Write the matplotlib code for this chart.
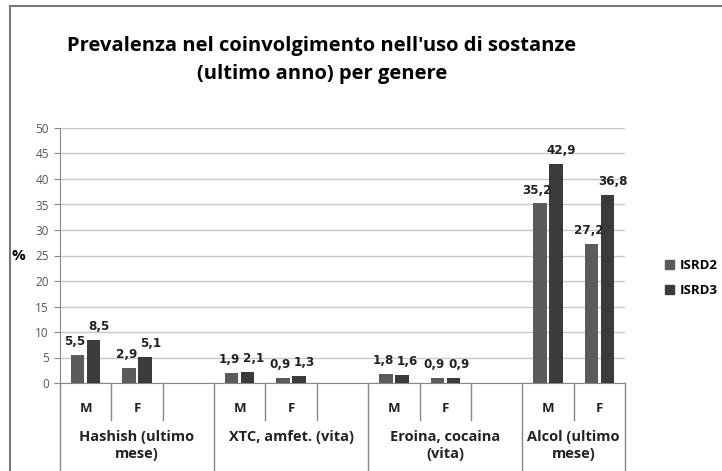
import numpy as np
import matplotlib.pyplot as plt
from matplotlib.patches import Patch

groups = ["Hashish (ultimo\nmese)", "XTC, amfet. (vita)", "Eroina, cocaina\n(vita)", "Alcol (ultimo\nmese)"]
subcats = [["M", "F", ""], ["M", "F", ""], ["M", "F", ""], ["M", "F"]]
isrd2 = [5.5, 2.9, 1.9, 0.9, 1.8, 0.9, 35.2, 27.2]
isrd3 = [8.5, 5.1, 2.1, 1.3, 1.6, 0.9, 42.9, 36.8]
yticks = [0, 5, 10, 15, 20, 25, 30, 35, 40, 45, 50]

c2 = "#5b5b5b"
c3 = "#3b3b3b"

fig = plt.figure(figsize=(7.22, 4.71), dpi=100)
W, H = 722, 471
ax = fig.add_axes([60 / W, (H - 383) / H, (625 - 60) / W, (383 - 128) / H])

# slot positions for each bar pair
nslots = sum(len(s) for s in subcats)
pos = []
k = 0
for s in subcats:
    for name in s:
        if name:
            pos.append(k + 0.5)
        k += 1
pos = np.array(pos)

w = 0.26
off = 0.155
ax.bar(pos - off, isrd2, w, color=c2, zorder=3)
ax.bar(pos + off, isrd3, w, color=c3, zorder=3)

lab = dict(ha="center", va="bottom", fontsize=9.5, fontweight="bold", family="DejaVu Sans",
           fontstretch="condensed", color="#222222", textcoords="offset points")
for x, v in zip(pos - off, isrd2):
    ax.annotate(f"{v:.1f}".replace(".", ","), (x, v), xytext=(-2, 5), **lab)
for x, v in zip(pos + off, isrd3):
    ax.annotate(f"{v:.1f}".replace(".", ","), (x, v), xytext=(4, 5), **lab)

ax.set_xlim(0, nslots)
ax.set_ylim(0, 50)
ax.set_yticks(yticks)
ax.set_yticklabels([str(t) for t in yticks], fontsize=8.5, color="#555555", family="Open Sans")
ax.tick_params(axis="y", length=4, color="#888888", pad=4)
ax.set_xticks([])
ax.yaxis.grid(True, color="#c8c8c8", lw=1)
ax.set_axisbelow(True)
for sp in ["top", "right"]:
    ax.spines[sp].set_visible(False)
ax.spines["left"].set_color("#888888")
ax.spines["bottom"].set_color("#888888")

ax.text(-0.062, 25 / 50, "%", transform=ax.transAxes, ha="right", va="center",
        fontsize=11, fontweight="bold", family="Open Sans")

# category axis: inner ticks and labels
ax_h = 383 - 128
inner = -37 / ax_h
outer = -88 / ax_h
xt = ax.get_xaxis_transform()
k = 0
bounds = [0]
for s in subcats:
    for i, name in enumerate(s):
        if name:
            ax.text(k + 0.5, -26 / ax_h, name, transform=xt, ha="center", va="center",
                    fontsize=9.5, fontweight="bold", family="Open Sans", color="#222222")
        k += 1
        if i < len(s) - 1:
            ax.plot([k, k], [0, inner], transform=xt, color="#888888", lw=1, clip_on=False)
    bounds.append(k)
for b in bounds:
    ax.plot([b, b], [0, outer], transform=xt, color="#888888", lw=1, clip_on=False)
for g, a, b in zip(groups, bounds[:-1], bounds[1:]):
    ax.text((a + b) / 2, -47 / ax_h, g, transform=xt, ha="center", va="top",
            fontsize=10.5, fontweight="bold", family="Open Sans", color="#222222", linespacing=1.3)

fig.text(322 / W, 1 - 60 / H, "Prevalenza nel coinvolgimento nell'uso di sostanze\n(ultimo anno) per genere",
         ha="center", va="center", fontsize=14.5, fontweight="bold", family="Open Sans", linespacing=1.55)

handles = [Patch(color=c2, label="ISRD2"), Patch(color=c3, label="ISRD3")]
fig.legend(handles=handles, loc="center left", bbox_to_anchor=(665 / W, 1 - 278 / H), frameon=False,
           borderpad=0, borderaxespad=0, handlelength=0.7, handleheight=0.7, handletextpad=0.4,
           labelspacing=0.9, prop={"family": "Open Sans", "weight": "bold", "size": 9.5})

# chart border (top and left visible)
fig.add_artist(plt.Line2D([10 / W, 10 / W], [0, 1 - 6 / H], color="#777777", lw=1.5))
fig.add_artist(plt.Line2D([10 / W, 1], [1 - 6 / H, 1 - 6 / H], color="#777777", lw=1.5))

fig.savefig("out.png", dpi=100)
